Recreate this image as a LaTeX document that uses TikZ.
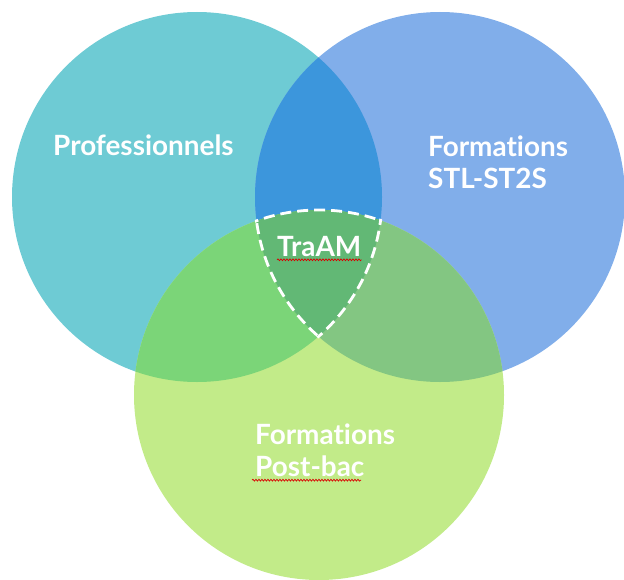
\documentclass[tikz,border=0pt]{standalone}
\usepackage{fontspec}
\setmainfont[Ligatures={NoCommon}]{Lato}
\usetikzlibrary{decorations.pathmorphing}
\definecolor{proFill}{HTML}{6ECBD4}
\definecolor{stlFill}{HTML}{81AEEA}
\definecolor{postFill}{HTML}{C2EB89}
\definecolor{proStlFill}{HTML}{3C96DC}
\definecolor{proPostFill}{HTML}{7BD578}
\definecolor{stlPostFill}{HTML}{83C682}
\definecolor{allFill}{HTML}{62B875}
\begin{document}
\begin{tikzpicture}
[x=1bp,y=-1bp,%
  setLabel/.style={text=white,font=\fontsize{28}{32}\selectfont\bfseries,align=left,inner sep=0pt,anchor=north west},%
  dashBorder/.style={draw=white,line width=2.8bp,dash pattern=on 11bp off 6bp},%
  spellMark/.style={draw=red!85!black,line width=0.7bp,decorate,decoration={snake,amplitude=0.9bp,segment length=3bp}}]
\useasboundingbox (0,0) rectangle (624,580);
%% centres of the three sets
\foreach \setname/\x/\y in {pro/197/197, stl/440/197, post/319/395}
{
  \coordinate (\setname) at (\x,\y);
}
%% plain sets
\foreach \setname in {pro, stl, post}
{
  \fill[\setname Fill] (\setname) circle[radius=185];
};
%% overlaps of two sets
\foreach \first/\second/\col in {pro/stl/proStlFill, pro/post/proPostFill, stl/post/stlPostFill}
{
  \begin{scope}
    \clip (\first) circle[radius=185];
    \fill[\col] (\second) circle[radius=185];
  \end{scope}
};
%% overlap of all three
\begin{scope}
  \clip (pro) circle[radius=185];
  \clip (stl) circle[radius=185];
  \fill[allFill] (post) circle[radius=185];
\end{scope}
%% dashed border of the middle
\foreach \first/\second/\third in {pro/stl/post, pro/post/stl, stl/post/pro}
{
  \begin{scope}
    \clip (\first) circle[radius=186.5];
    \clip (\second) circle[radius=186.5];
    \draw[dashBorder] (\third) circle[radius=185];
  \end{scope}
};
%% labels
\node (proLabel) at (53,135) [setLabel] {Professionnels};
\node (stlLabel) at (428,136) [setLabel] {Formations\\STL-ST2S};
\node (traamLabel) at (277,236) [setLabel] {TraAM};
\node (postLabel) at (255,424) [setLabel] {Formations\\Post-bac};
%% spelling marks
\draw[spellMark] ([yshift=-3bp]traamLabel.south west) -- ([yshift=-3bp]traamLabel.south east);
\draw[spellMark] ([xshift=-3bp,yshift=-3bp]postLabel.south west) -- ([xshift=-34bp,yshift=-3bp]postLabel.south east);
\end{tikzpicture}
\end{document}
